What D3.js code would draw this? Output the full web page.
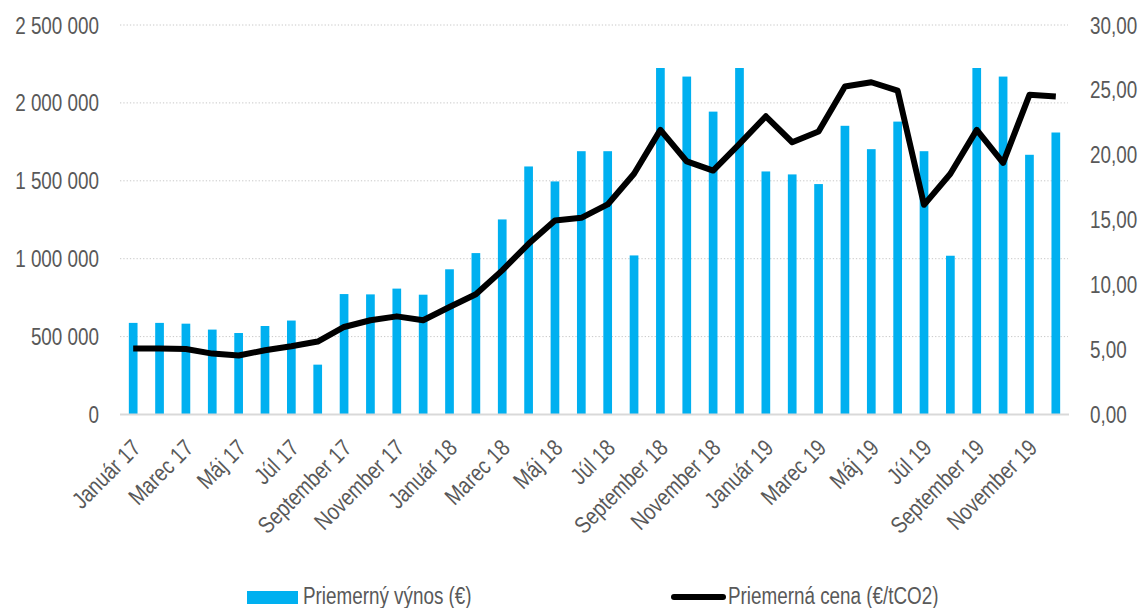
<!DOCTYPE html>
<html>
<head>
<meta charset="utf-8">
<script src="https://cdn.jsdelivr.net/npm/d3@7"></script>
<style>
  html, body { margin: 0; padding: 0; background: #fff; }
  svg text { font-family: "Liberation Sans Narrow", "Arial Narrow", "Liberation Sans", Arial, sans-serif; fill: #595959; }
</style>
</head>
<body>
<svg id="chart" width="1142" height="608"></svg>
<script>
const months = ["Január 17","Február 17","Marec 17","Apríl 17","Máj 17","Jún 17","Júl 17","August 17","September 17","Október 17","November 17","December 17",
  "Január 18","Február 18","Marec 18","Apríl 18","Máj 18","Jún 18","Júl 18","August 18","September 18","Október 18","November 18","December 18",
  "Január 19","Február 19","Marec 19","Apríl 19","Máj 19","Jún 19","Júl 19","August 19","September 19","Október 19","November 19","December 19"];
const revenue = [588000,588000,583000,545000,523000,568000,603000,320000,773000,771000,808000,769000,
  932000,1036000,1252000,1592000,1496000,1690000,1690000,1021000,2224000,2169000,1944000,2224000,
  1560000,1541000,1479000,1853000,1703000,1880000,1690000,1019000,2224000,2169000,1667000,1810000];
const price = [5.08,5.08,5.05,4.69,4.54,4.95,5.26,5.62,6.74,7.26,7.56,7.26,
  8.28,9.26,11.10,13.15,14.95,15.15,16.18,18.54,21.92,19.49,18.79,20.85,
  22.97,20.97,21.79,25.26,25.59,24.95,16.15,18.54,21.92,19.38,24.62,24.49];
const leftTicks = [0,500000,1000000,1500000,2000000,2500000];
const rightTicks = [0,5,10,15,20,25,30];
const seriesNames = ["Priemerný výnos (€)", "Priemerná cena (€/tCO2)"];

const SX = 0.82; // horizontal condensing to mimic a narrow face
const svg = d3.select("#chart");
const x0 = 120, x1 = 1069, yTop = 25, yBot = 414.5;
const x = d3.scaleBand().domain(months).range([x0, x1]).paddingInner(0.67).paddingOuter(0.335);
const yL = d3.scaleLinear().domain([0, 2500000]).range([yBot, yTop]);
const yR = d3.scaleLinear().domain([0, 30]).range([yBot, yTop]);
const cx = d => x(d) + x.bandwidth() / 2;

const fmtL = v => d3.format(",")(v).replace(/,/g, " ");
const fmtR = v => d3.format(".2f")(v).replace(".", ",");

// gridlines
svg.append("g").selectAll("line").data(leftTicks.filter(t => t > 0)).join("line")
  .attr("x1", x0).attr("x2", x1 - 1).attr("y1", d => yL(d)).attr("y2", d => yL(d))
  .attr("stroke", "#c8c8c8").attr("stroke-width", 1).attr("stroke-dasharray", "1.3,2");

// left axis
const gL = svg.append("g").attr("transform", `translate(${x0},0)`)
  .call(d3.axisLeft(yL).tickValues(leftTicks).tickFormat(fmtL).tickSize(0).tickPadding(21));
gL.select(".domain").remove();
gL.selectAll("text").attr("font-size", 23).attr("dy", "0.35em").style("font-family", null)
  .attr("x", -21 / SX).attr("transform", `scale(${SX},1)`);
// right axis
const gR = svg.append("g").attr("transform", `translate(${x1},0)`)
  .call(d3.axisRight(yR).tickValues(rightTicks).tickFormat(fmtR).tickSize(0).tickPadding(21));
gR.select(".domain").remove();
gR.selectAll("text").attr("font-size", 23).attr("dy", "0.35em").style("font-family", null)
  .attr("x", 21 / SX).attr("transform", `scale(${SX},1)`);

// bars
svg.append("g").selectAll("rect").data(revenue).join("rect")
  .attr("x", (d, i) => x(months[i])).attr("width", x.bandwidth())
  .attr("y", d => yL(d)).attr("height", d => yBot - yL(d))
  .attr("fill", "#00b0f0");

// baseline
svg.append("line").attr("x1", x0).attr("x2", x1).attr("y1", yBot).attr("y2", yBot)
  .attr("stroke", "#d9d9d9").attr("stroke-width", 2);

// line
const line = d3.line().x((d, i) => cx(months[i])).y(d => yR(d));
svg.append("path").datum(price).attr("d", line)
  .attr("fill", "none").attr("stroke", "#000").attr("stroke-width", 6)
  .attr("stroke-linejoin", "round").attr("stroke-linecap", "butt");

// x labels (every other month)
const gX = svg.append("g").attr("transform", `translate(0,${yBot})`)
  .call(d3.axisBottom(x).tickValues(months.filter((m, i) => i % 2 === 0)).tickSize(0).tickPadding(0));
gX.select(".domain").remove();
gX.selectAll("text")
  .attr("font-size", 23.5).style("font-family", null)
  .attr("text-anchor", "end")
  .attr("transform", `translate(9,35) rotate(-45) scale(${SX},1)`)
  .attr("dy", "0").attr("y", 0).attr("x", 0);

// legend
const lg = svg.append("g");
lg.append("rect").attr("x", 247).attr("y", 591).attr("width", 51).attr("height", 13).attr("fill", "#00b0f0");
lg.append("text").attr("transform", `translate(303,604) scale(${SX},1)`).attr("font-size", 23).text(seriesNames[0]);
lg.append("line").attr("x1", 674).attr("x2", 723).attr("y1", 597).attr("y2", 597)
  .attr("stroke", "#000").attr("stroke-width", 6).attr("stroke-linecap", "round");
lg.append("text").attr("transform", `translate(728,604) scale(${SX},1)`).attr("font-size", 23).text(seriesNames[1]);
</script>
</body>
</html>
